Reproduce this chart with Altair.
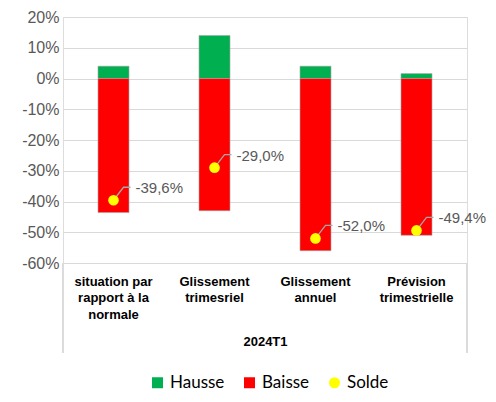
import altair as alt
import pandas as pd

categories = [
    "situation par\nrapport à la\nnormale",
    "Glissement\ntrimesriel",
    "Glissement\nannuel",
    "Prévision\ntrimestrielle",
]
hausse = [4.0, 14.0, 4.0, 1.6]
baisse = [-43.6, -43.0, -56.0, -51.0]
solde = [-39.6, -29.0, -52.0, -49.4]
period = "2024T1"

series_order = ["Hausse", "Baisse", "Solde"]
series_colors = ["#00B050", "#FF0000", "#FFFF00"]

bars = pd.DataFrame(
    [{"cat": c, "serie": "Hausse", "v": h} for c, h in zip(categories, hausse)]
    + [{"cat": c, "serie": "Baisse", "v": b} for c, b in zip(categories, baisse)]
)
pts = pd.DataFrame(
    {
        "cat": categories,
        "serie": ["Solde"] * len(categories),
        "v": solde,
        "txt": [f"{s:.1f}%".replace(".", ",") for s in solde],
    }
)

W, H = 404, 246
FONT = "Liberation Sans"

x_enc = alt.X(
    "cat:N",
    sort=categories,
    scale=alt.Scale(paddingInner=0, paddingOuter=0),
    axis=alt.Axis(
        title=period,
        titleFont=FONT,
        titleFontSize=13,
        titleFontWeight="bold",
        titleColor="#000000",
        titlePadding=14,
        labelExpr="split(datum.value, '\\n')",
        labelAngle=0,
        labelFont=FONT,
        labelFontSize=13,
        labelFontWeight="bold",
        labelColor="#000000",
        labelLineHeight=16.5,
        labelBaseline="top",
        labelPadding=12,
        labelOverlap=False,
        ticks=False,
        domainColor="#d9d9d9",
        domainWidth=1,
        grid=False,
    ),
)
y_enc = alt.Y(
    "v:Q",
    stack=None,
    scale=alt.Scale(domain=[-60, 20], nice=False, zero=True),
    axis=alt.Axis(
        title=None,
        values=list(range(-60, 21, 10)),
        labelOverlap=False,
        labelExpr="datum.value + '%'",
        labelFont=FONT,
        labelFontSize=16,
        labelColor="#595959",
        labelPadding=4,
        ticks=False,
        domain=False,
        gridColor="#d9d9d9",
        gridWidth=1,
    ),
)

legend_cfg = dict(
    title=None,
    orient="none",
    legendX=86,
    legendY=357,
    direction="horizontal",
    columns=3,
    labelFont="Lato",
    labelFontSize=17,
    labelColor="#000000",
    symbolSize=121,
    symbolStrokeWidth=0,
    labelOffset=4,
    columnPadding=16,
    padding=0,
)

color = alt.Color(
    "serie:N",
    scale=alt.Scale(domain=series_order, range=series_colors),
    legend=alt.Legend(**legend_cfg),
)
shape = alt.Shape(
    "serie:N",
    scale=alt.Scale(domain=series_order, range=["square", "square", "circle"]),
    legend=alt.Legend(**legend_cfg),
)

bar_layer = alt.Chart(bars).mark_bar(size=31, stroke="#a6a6a6", strokeWidth=0.6).encode(
    x=x_enc,
    y=y_enc,
    color=color,
)

point_layer = alt.Chart(pts).mark_point(filled=True, size=113, opacity=1).encode(
    x=x_enc,
    y=y_enc,
    color=color,
    shape=shape,
)

leader_layer = alt.Chart(pts).mark_point(
    shape="M0,0L1.0,-1.3L1.7,-1.3",
    size=400,
    filled=False,
    stroke="#a6a6a6",
    strokeWidth=1.3,
    opacity=1,
).encode(
    x=x_enc,
    y=y_enc,
)

text_layer = alt.Chart(pts).mark_text(
    align="left",
    baseline="middle",
    dx=22,
    dy=-12,
    font=FONT,
    fontSize=15,
    color="#595959",
).encode(
    x=x_enc,
    y=y_enc,
    text="txt:N",
)

frame_left = alt.Chart(pts).mark_rule(color="#d9d9d9", strokeWidth=1).encode(
    x=alt.value(0), y=alt.value(H), y2=alt.value(H + 90)
)
frame_right = alt.Chart(pts).mark_rule(color="#d9d9d9", strokeWidth=1).encode(
    x=alt.value(W), y=alt.value(H), y2=alt.value(H + 90)
)

chart = (
    alt.layer(bar_layer, leader_layer, point_layer, text_layer, frame_left, frame_right)
    .resolve_scale(color="shared", shape="shared")
    .properties(
        width=W,
        height=H,
        autosize=alt.AutoSizeParams(type="none"),
        padding={"left": 55, "top": 9, "right": 21, "bottom": 131},
    )
    .configure_view(stroke=None)
    .configure(background="#ffffff")
)

chart.save("out.html", embed_options={"renderer": "svg", "actions": False})
